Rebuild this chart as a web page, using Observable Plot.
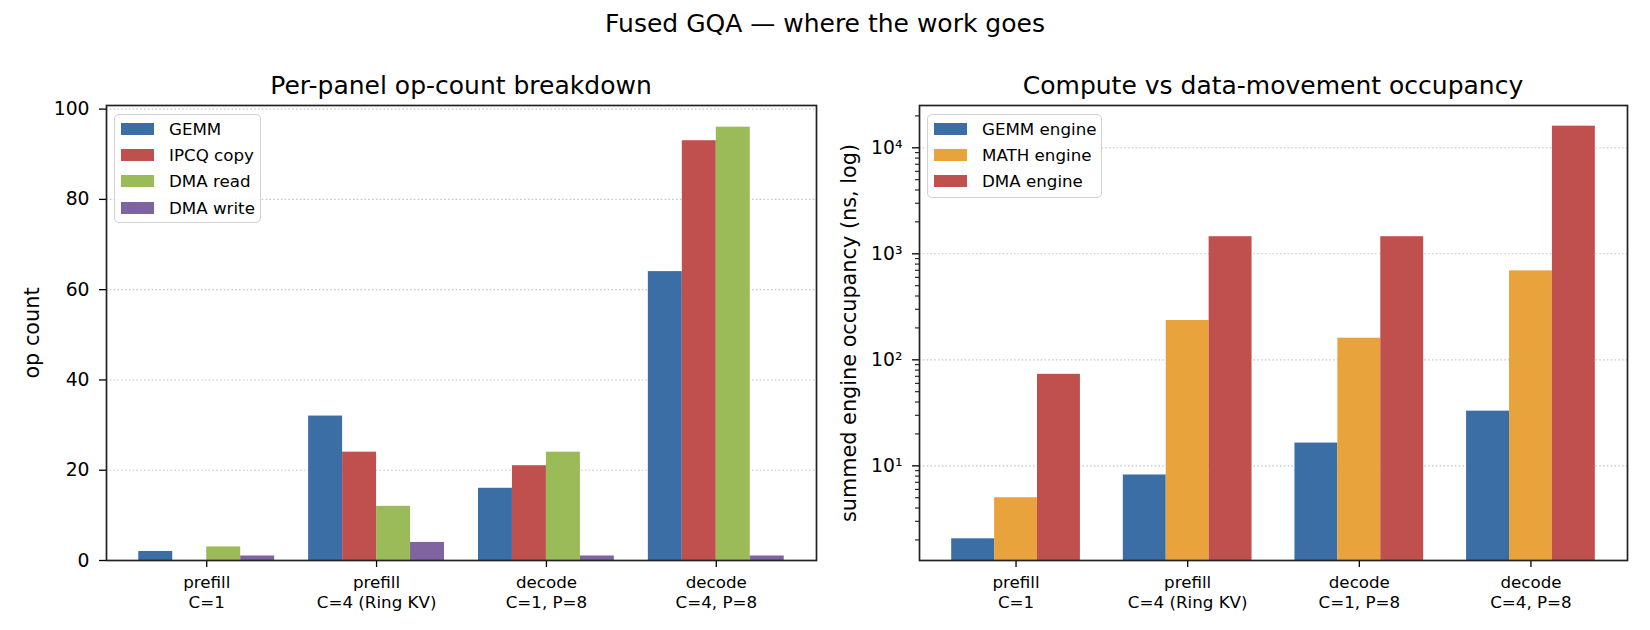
<!DOCTYPE html>
<html>
<head>
<meta charset="utf-8">
<script src="https://cdn.jsdelivr.net/npm/d3@7"></script>
<script src="https://cdn.jsdelivr.net/npm/@observablehq/plot@0.6"></script>
<style>
  body { margin: 0; background: #fff; }
  #wrap { position: relative; width: 1650px; height: 630px; overflow: hidden;
          font-family: "DejaVu Sans", sans-serif; color: #000; background: #fff; }
  .abs { position: absolute; white-space: nowrap; }
  .plot { position: absolute; top: 0; }
  .legend { position: absolute; box-sizing: border-box; border: 1.5px solid #d0d0d0;
            border-radius: 5px; background: rgba(255,255,255,0.85); }
  .sw { position: absolute; }
  .lt { position: absolute; font-size: 16.7px; line-height: 20px; white-space: nowrap; }
</style>
</head>
<body>
<div id="wrap"></div>
<script>
// ---------- data ----------
const categories = ["prefill\nC=1", "prefill\nC=4 (Ring KV)", "decode\nC=1, P=8", "decode\nC=4, P=8"];

const opSeries = ["GEMM", "IPCQ copy", "DMA read", "DMA write"];
const opGEMM = [2, 32, 16, 64];
const opIPCQ = [0, 24, 21, 93];
const opDMARead = [3, 12, 24, 96];
const opDMAWrite = [1, 4, 1, 1];
const opColors = ["#3b6ea5", "#c0504d", "#9bbb59", "#8064a2"];
const opTicks = [0, 20, 40, 60, 80, 100];

const engSeries = ["GEMM engine", "MATH engine", "DMA engine"];
const engGEMM = [2.05, 8.2, 16.4, 32.8];
const engMATH = [5.0, 235, 160, 690];
const engDMA = [73, 1450, 1450, 16000];
const engColors = ["#3b6ea5", "#e8a33d", "#c0504d"];
const logTicks = [10, 100, 1000, 10000];
const logTickLabels = ["10¹", "10²", "10³", "10⁴"];

// ---------- layout helpers ----------
const W = 1650, H = 630;
const opValues = [opGEMM, opIPCQ, opDMARead, opDMAWrite];
const engValues = [engGEMM, engMATH, engDMA];

function groupRows(seriesNames, valueArrays, barWidth) {
  const rows = [];
  const n = seriesNames.length;
  seriesNames.forEach((s, j) => {
    valueArrays[j].forEach((v, i) => {
      const x1 = i - (n * barWidth) / 2 + j * barWidth;
      rows.push({series: s, cat: i, value: v, x1, x2: x1 + barWidth});
    });
  });
  return rows;
}

const opRows = groupRows(opSeries, opValues, 0.2);
const engRows = groupRows(engSeries, engValues, 0.25);

const yLogDomain = [1.28, 25060];
const minorTicks = [];
for (const dec of [1, 10, 100, 1000, 10000]) {
  for (const m of [2, 3, 4, 5, 6, 7, 8, 9]) {
    const t = m * dec;
    if (t >= yLogDomain[0] && t <= yLogDomain[1]) minorTicks.push(t);
  }
}

const baseStyle = {fontFamily: "DejaVu Sans, sans-serif", fontSize: "18.75px", color: "#000",
                   background: "transparent", overflow: "visible"};
const gridOpts = {stroke: "#b8b8b8", strokeOpacity: 0.8, strokeDasharray: "1.6,2.2", strokeWidth: 1.1};

// ---------- left chart ----------
const left = Plot.plot({
  width: 830, height: H,
  marginLeft: 106, marginRight: 14, marginTop: 105, marginBottom: 70,
  style: baseStyle,
  x: {domain: [-0.59, 3.59]},
  y: {domain: [0, 100.8]},
  color: {domain: opSeries, range: opColors},
  marks: [
    Plot.gridY(opTicks.slice(1), gridOpts),
    Plot.rectY(opRows, {x1: "x1", x2: "x2", y1: 0, y2: "value", fill: "series"}),
    Plot.axisY(opTicks, {tickSize: 7, tickPadding: 10, fontSize: 18.75, label: null, stroke: "#000", strokeWidth: 1.3}),
    Plot.axisX([0, 1, 2, 3], {tickSize: 7, tickPadding: 6, fontSize: 16.7, lineHeight: 1.2,
      tickFormat: (d) => categories[d], label: null, stroke: "#000", strokeWidth: 1.3}),
    Plot.frame({stroke: "#222", strokeWidth: 1.7})
  ]
});
left.classList.add("plot");
left.style.left = "0px";

// ---------- right chart ----------
const right = Plot.plot({
  width: 830, height: H,
  marginLeft: 99, marginRight: 23, marginTop: 105, marginBottom: 70,
  style: baseStyle,
  x: {domain: [-0.5625, 3.5625]},
  y: {type: "log", domain: yLogDomain},
  color: {domain: engSeries, range: engColors},
  marks: [
    Plot.gridY(logTicks, gridOpts),
    Plot.rectY(engRows, {x1: "x1", x2: "x2", y1: yLogDomain[0], y2: "value", fill: "series"}),
    Plot.axisY(minorTicks, {tickSize: 4, tickFormat: () => "", label: null, stroke: "#000", strokeWidth: 1}),
    Plot.axisY(logTicks, {tickSize: 7, tickPadding: 10, fontSize: 18.75, label: null,
      tickFormat: (d, i) => logTickLabels[logTicks.indexOf(d)], stroke: "#000", strokeWidth: 1.3}),
    Plot.axisX([0, 1, 2, 3], {tickSize: 7, tickPadding: 6, fontSize: 16.7, lineHeight: 1.2,
      tickFormat: (d) => categories[d], label: null, stroke: "#000", strokeWidth: 1.3}),
    Plot.frame({stroke: "#222", strokeWidth: 1.7})
  ]
});
right.classList.add("plot");
right.style.left = "820px";

// ---------- assemble ----------
const wrap = document.getElementById("wrap");
wrap.appendChild(left);
wrap.appendChild(right);

function addText(txt, cx, cy, size, rotate) {
  const d = document.createElement("div");
  d.className = "abs";
  d.textContent = txt;
  d.style.fontSize = size + "px";
  d.style.lineHeight = size + "px";
  d.style.left = cx + "px";
  d.style.top = cy + "px";
  d.style.transform = "translate(-50%,-50%)" + (rotate ? " rotate(-90deg)" : "");
  wrap.appendChild(d);
}
addText("Fused GQA — where the work goes", 825, 23, 25);
addText("Per-panel op-count breakdown", 461, 85, 25);
addText("Compute vs data-movement occupancy", 1273, 85, 25);
addText("op count", 32, 333, 20.8, true);
addText("summed engine occupancy (ns, log)", 849, 333, 20.8, true);

function addLegend(names, colors, box, swX, txtX, rowY) {
  const lg = document.createElement("div");
  lg.className = "legend";
  lg.style.left = box[0] + "px"; lg.style.top = box[1] + "px";
  lg.style.width = box[2] + "px"; lg.style.height = box[3] + "px";
  wrap.appendChild(lg);
  names.forEach((n, i) => {
    const sw = document.createElement("div");
    sw.className = "sw";
    sw.style.left = swX + "px"; sw.style.top = (rowY[i] - 6) + "px";
    sw.style.width = "33px"; sw.style.height = "12px";
    sw.style.background = colors[i];
    wrap.appendChild(sw);
    const t = document.createElement("div");
    t.className = "lt";
    t.textContent = n;
    t.style.left = txtX + "px"; t.style.top = (rowY[i] - 10) + "px";
    wrap.appendChild(t);
  });
}
addLegend(opSeries, opColors, [114, 114, 147, 109], 121, 169, [129, 155, 181, 207.5]);
addLegend(engSeries, engColors, [927, 114, 175, 84], 934, 982, [128.7, 154.5, 181]);
</script>
</body>
</html>
